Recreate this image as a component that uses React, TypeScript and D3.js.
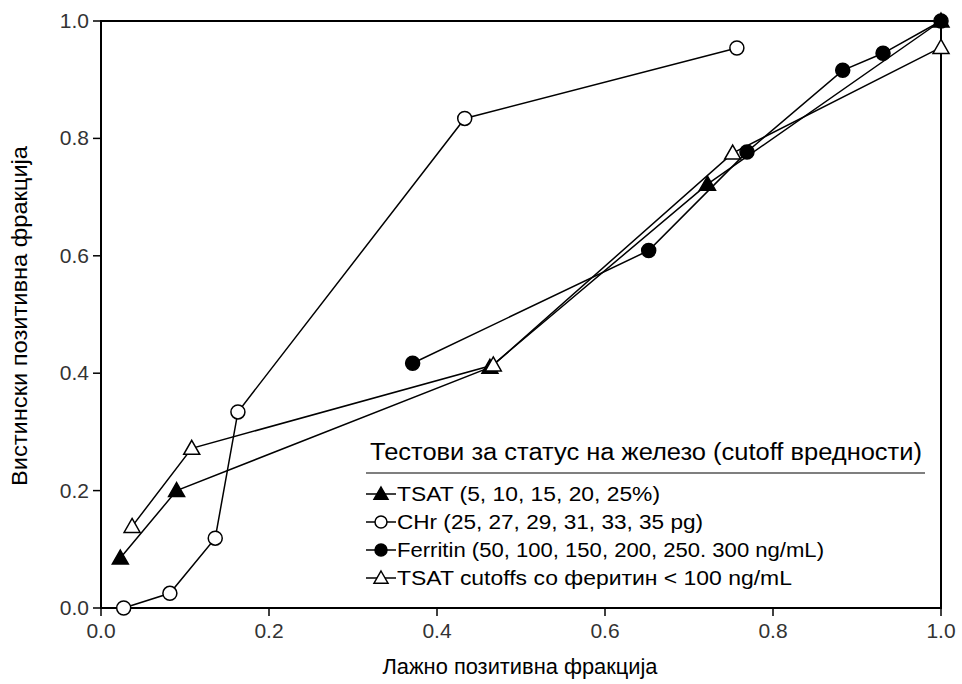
import React from 'react';
import * as d3 from 'd3';

// ROC points (false positive fraction, true positive fraction)
const tsatX = [0.023, 0.09, 0.463, 0.722, 1.0];
const tsatY = [0.085, 0.2, 0.41, 0.722, 1.0];

const chrX = [0.027, 0.082, 0.136, 0.163, 0.433, 0.757];
const chrY = [0.0, 0.025, 0.119, 0.334, 0.834, 0.954];

const ferritinX = [0.371, 0.652, 0.769, 0.883, 0.931, 1.0];
const ferritinY = [0.417, 0.609, 0.777, 0.916, 0.945, 1.0];

const tsatFerX = [0.037, 0.108, 0.467, 0.752, 1.0];
const tsatFerY = [0.139, 0.272, 0.414, 0.775, 0.955];

const ticks = [0, 0.2, 0.4, 0.6, 0.8, 1.0];

const legendTitle = 'Тестови за статус на железо (cutoff вредности)';
const legendLabels = [
  'TSAT (5, 10, 15, 20, 25%)',
  'CHr (25, 27, 29, 31, 33, 35 pg)',
  'Ferritin (50, 100, 150, 200, 250. 300 ng/mL)',
  'TSAT cutoffs со феритин < 100 ng/mL',
];
// widths of the legend texts in the original, so the condensed face lines up
const legendWidths = [263, 306, 427, 395];

const W = 962;
const H = 684;
const m = { left: 101, right: 21, top: 21, bottom: 76 };

function Marker({ kind, x, y, s = 8 }: { kind: string; x: number; y: number; s?: number }) {
  if (kind === 'circle' || kind === 'dot') {
    return (
      <circle cx={x} cy={y} r={s - 1} fill={kind === 'dot' ? '#000' : '#fff'} stroke="#000" strokeWidth={1.5} />
    );
  }
  const p = `M${x},${y - s}L${x + s},${y + s * 0.75}L${x - s},${y + s * 0.75}Z`;
  return <path d={p} fill={kind === 'tri' ? '#000' : '#fff'} stroke="#000" strokeWidth={1.5} />;
}

export default function App() {
  const x = d3.scaleLinear().domain([0, 1]).range([m.left, W - m.right]);
  const y = d3.scaleLinear().domain([0, 1]).range([H - m.bottom, m.top]);

  const series = [
    { xs: tsatX, ys: tsatY, kind: 'tri' },
    { xs: chrX, ys: chrY, kind: 'circle' },
    { xs: ferritinX, ys: ferritinY, kind: 'dot' },
    { xs: tsatFerX, ys: tsatFerY, kind: 'opentri' },
  ];

  const line = d3.line<number[]>().x(d => x(d[0])).y(d => y(d[1]));

  const font = '"Liberation Sans", Arial, sans-serif';
  const lgX = 366;

  return (
    <svg width={W} height={H} style={{ position: 'absolute', left: 0, top: 0, background: '#fff' }} fontFamily={font}>
      <rect width={W} height={H} fill="#fff" />
      {/* frame */}
      <rect x={x(0)} y={y(1)} width={x(1) - x(0)} height={y(0) - y(1)} fill="none" stroke="#000" strokeWidth={2} />
      {ticks.map(t => (
        <g key={'x' + t}>
          <line x1={x(t)} x2={x(t)} y1={y(0)} y2={y(0) + 8} stroke="#000" strokeWidth={1.5} />
          <text x={x(t)} y={y(0) + 30} textAnchor="middle" fontSize={21} fill="#333">{t.toFixed(1)}</text>
        </g>
      ))}
      {ticks.map(t => (
        <g key={'y' + t}>
          <line x1={x(0) - 8} x2={x(0)} y1={y(t)} y2={y(t)} stroke="#000" strokeWidth={1.5} />
          <text x={x(0) - 12} y={y(t) + 7} textAnchor="end" fontSize={21} fill="#333">{t.toFixed(1)}</text>
        </g>
      ))}
      <text x={520} y={674} textAnchor="middle" fontSize={22} fill="#000"
        textLength={275} lengthAdjust="spacingAndGlyphs">Лажно позитивна фракција</text>
      <text transform={`translate(27,316) rotate(-90)`} textAnchor="middle" fontSize={22} fill="#000"
        textLength={340} lengthAdjust="spacingAndGlyphs">Вистински позитивна фракција</text>

      {series.map((s, i) => (
        <path key={'l' + i} d={line(s.xs.map((v, j) => [v, s.ys[j]])) || ''} fill="none" stroke="#000" strokeWidth={1.5} />
      ))}
      {series.map((s, i) => (
        <g key={'m' + i}>
          {s.xs.map((v, j) => <Marker key={j} kind={s.kind} x={x(v)} y={y(s.ys[j])} />)}
        </g>
      ))}

      {/* legend */}
      <text x={lgX + 4} y={460} fontSize={23} fill="#000" textLength={552} lengthAdjust="spacingAndGlyphs">{legendTitle}</text>
      <line x1={lgX} x2={925} y1={473} y2={473} stroke="#000" strokeWidth={1.2} />
      {legendLabels.map((lab, i) => {
        const cy = 494 + i * 28;
        return (
          <g key={lab}>
            <line x1={lgX} x2={lgX + 30} y1={cy} y2={cy} stroke="#000" strokeWidth={1.5} />
            <Marker kind={series[i].kind} x={lgX + 15} y={cy} s={7} />
            <text x={lgX + 31} y={cy + 7} fontSize={20} fill="#000"
              textLength={legendWidths[i]} lengthAdjust="spacingAndGlyphs">{lab}</text>
          </g>
        );
      })}
    </svg>
  );
}
